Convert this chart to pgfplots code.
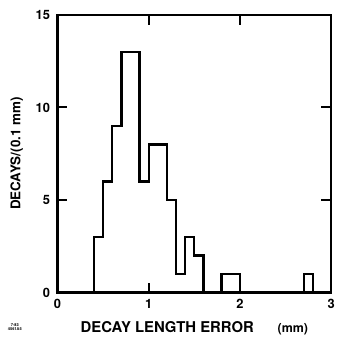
\documentclass[border=0pt]{standalone}
\usepackage{fontspec}
\setmainfont{TeX Gyre Heros}
\usepackage{pgfplots}
\pgfplotsset{compat=1.18}
\begin{document}
\begin{tikzpicture}
\path[draw=none] (0pt,0pt) rectangle (337pt,338pt);
\begin{axis}[
  at={(58pt,43pt)}, anchor=south west,
  scale only axis, width=276pt, height=280pt,
  xmin=0, xmax=3, ymin=0, ymax=15,
  axis line style={line width=2.4pt},
  xtick={0,1,2,3}, ytick={0,5,10,15},
  xtick align=inside, ytick align=inside,
  xtick style={draw=black, line width=2.2pt, xshift=0pt},
  ytick style={draw=black, line width=2.2pt},
  major tick length=10pt,
  ticklabel style={font=\bfseries\fontsize{13}{13}\selectfont},
  /pgf/number format/assume math mode=true,
  xticklabel style={yshift=-3pt},
  yticklabel style={xshift=-4pt},
  xlabel={\bfseries\fontsize{15}{15}\selectfont DECAY LENGTH ERROR\hspace{1.6em}{\fontsize{12.5}{12.5}\selectfont(mm)}},
  xlabel style={at={(axis description cs:0.5,-0.1429)}, anchor=base},
  ylabel={\bfseries\fontsize{13.5}{13.5}\selectfont DECAYS/(0.1 mm)},
  ylabel style={at={(axis description cs:-0.149,0.5)}, anchor=center},
]
\addplot[const plot, line width=2.4pt, black] coordinates {
  (0,0) (0.4,3) (0.5,6) (0.6,9) (0.7,13) (0.8,13) (0.9,6) (1.0,8) (1.1,8)
  (1.2,5) (1.3,1) (1.4,3) (1.5,2) (1.6,0) (1.8,1) (1.9,1) (2.0,0)
  (2.7,1) (2.8,0) (3,0)
};
\end{axis}
\node[font=\bfseries\fontsize{4}{4.5}\selectfont, align=center] at (15pt,8pt) {7-83\\4561A5};
\end{tikzpicture}
\end{document}
